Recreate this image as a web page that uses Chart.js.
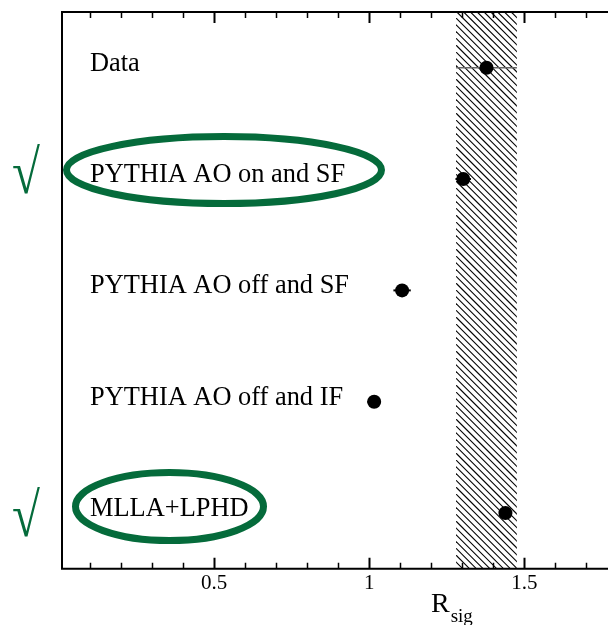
<!DOCTYPE html>
<html>
<head>
<meta charset="utf-8">
<script src="https://cdn.jsdelivr.net/npm/chart.js@4.4.1/dist/chart.umd.min.js"></script>
<style>
  html, body { margin: 0; padding: 0; background: #fff; }
  #c { display: block; }
</style>
</head>
<body>
<canvas id="c" width="608" height="625" style="width:608px;height:625px"></canvas>
<script>
// ---- data ----
const categories = ["Data", "PYTHIA AO on and SF", "PYTHIA AO off and SF", "PYTHIA AO off and IF", "MLLA+LPHD"];
const rsigValues = [1.378, 1.303, 1.106, 1.016, 1.439];
const rsigErrors = [0.098, 0.025, 0.028, 0.022, 0.0];
const checked    = [false, true, false, false, true];
const majorTicks = [0.5, 1, 1.5];
const minorTicks = [0.1, 0.2, 0.3, 0.4, 0.6, 0.7, 0.8, 0.9, 1.1, 1.2, 1.3, 1.4, 1.6, 1.7];
const xTitle = "R";
const xTitleSub = "sig";

const GREEN = "#056b3b";
const SERIF = "'Liberation Serif', 'Times New Roman', serif";

// ellipse / check-mark geometry (style, pixel offsets relative to row)
const ellipseStyle = {
  1: { cx: 224, dy: -9, rx: 157.5, ry: 33.5, checkDy: 14 },
  4: { cx: 169.5, dy: -6.5, rx: 94, ry: 34, checkDy: 23 }
};

const decorPlugin = {
  id: 'decor',
  beforeDatasetsDraw(chart) {
    const ctx = chart.ctx;
    const xs = chart.scales.x, ys = chart.scales.y;
    const area = chart.chartArea;
    // hatched band = data value +- its uncertainty
    const x0 = xs.getPixelForValue(rsigValues[0] - rsigErrors[0]);
    const x1 = xs.getPixelForValue(rsigValues[0] + rsigErrors[0]);
    ctx.save();
    ctx.beginPath();
    ctx.rect(x0, area.top, x1 - x0, area.bottom - area.top);
    ctx.clip();
    ctx.strokeStyle = '#000';
    ctx.lineWidth = 1.1;
    const h = area.bottom - area.top;
    for (let s = x0 - h; s < x1 + 10; s += 6.8) {
      ctx.beginPath();
      ctx.moveTo(s, area.top);
      ctx.lineTo(s + h, area.bottom);
      ctx.stroke();
    }
    ctx.restore();
    // error bars
    ctx.save();
    rsigValues.forEach((v, i) => {
      const e = rsigErrors[i];
      if (!e) return;
      const y = ys.getPixelForValue(i);
      ctx.beginPath();
      ctx.strokeStyle = i === 0 ? '#666' : '#000';
      ctx.lineWidth = i === 0 ? 1.5 : 2;
      ctx.moveTo(xs.getPixelForValue(v - e), y);
      ctx.lineTo(xs.getPixelForValue(v + e), y);
      ctx.stroke();
    });
    ctx.restore();
  },
  afterDraw(chart) {
    const ctx = chart.ctx;
    const xs = chart.scales.x, ys = chart.scales.y;
    const a = chart.chartArea;
    ctx.save();
    // frame: left, top, bottom
    ctx.strokeStyle = '#000';
    ctx.lineWidth = 2;
    ctx.beginPath();
    ctx.moveTo(chart.width + 2, a.top);
    ctx.lineTo(a.left, a.top);
    ctx.lineTo(a.left, a.bottom);
    ctx.lineTo(chart.width + 2, a.bottom);
    ctx.stroke();
    // inward ticks on top and bottom
    ctx.lineWidth = 1.5;
    const drawTick = (v, len) => {
      const px = Math.round(xs.getPixelForValue(v)) + 0.5;
      ctx.beginPath();
      ctx.moveTo(px, a.bottom);
      ctx.lineTo(px, a.bottom - len);
      ctx.moveTo(px, a.top);
      ctx.lineTo(px, a.top + len);
      ctx.stroke();
    };
    minorTicks.forEach(v => drawTick(v, 6));
    ctx.lineWidth = 2;
    majorTicks.forEach(v => drawTick(v, 11));

    // labels
    ctx.fillStyle = '#000';
    ctx.font = '26.4px ' + SERIF;
    ctx.textBaseline = 'alphabetic';
    ctx.textAlign = 'left';
    categories.forEach((c, i) => {
      const y = ys.getPixelForValue(i);
      ctx.fillText(c, a.left + 28, y + 3);
    });

    // ellipses and check marks
    categories.forEach((c, i) => {
      if (!checked[i]) return;
      const y = ys.getPixelForValue(i);
      const st = ellipseStyle[i];
      ctx.beginPath();
      ctx.strokeStyle = GREEN;
      ctx.lineWidth = 7;
      ctx.ellipse(st.cx, y + st.dy, st.rx, st.ry, 0, 0, Math.PI * 2);
      ctx.stroke();
      ctx.save();
      ctx.fillStyle = GREEN;
      ctx.font = '62px ' + SERIF;
      ctx.textAlign = 'center';
      ctx.translate(26, y + st.checkDy);
      ctx.scale(0.82, 1);
      ctx.fillText('\u221A', 0, 0);
      ctx.restore();
    });

    // axis title R_sig
    ctx.fillStyle = '#000';
    ctx.textAlign = 'left';
    ctx.font = '28px ' + SERIF;
    ctx.fillText(xTitle, 431, 612);
    const w = ctx.measureText(xTitle).width;
    ctx.font = '19px ' + SERIF;
    ctx.fillText(xTitleSub, 431 + w + 1, 622);
    ctx.restore();
  }
};

new Chart(document.getElementById('c'), {
  type: 'scatter',
  data: {
    datasets: [{
      data: rsigValues.map((v, i) => ({ x: v, y: i })),
      pointRadius: 7,
      pointHoverRadius: 7,
      pointBackgroundColor: '#000',
      pointBorderColor: '#000',
      pointBorderWidth: 0,
      clip: false
    }]
  },
  options: {
    responsive: false,
    animation: false,
    events: [],
    layout: { padding: { left: 62, top: 12, right: 0, bottom: 27 } },
    plugins: { legend: { display: false }, tooltip: { enabled: false } },
    scales: {
      x: {
        type: 'linear',
        min: 0.01,
        max: 1.747,
        grid: { display: false, drawTicks: false },
        border: { display: false },
        afterBuildTicks(scale) { scale.ticks = majorTicks.map(v => ({ value: v })); },
        ticks: {
          color: '#000',
          padding: 2,
          maxRotation: 0,
          autoSkip: false,
          font: { family: SERIF, size: 21 },
          callback: (v) => String(v)
        }
      },
      y: {
        type: 'linear',
        min: -0.5,
        max: 4.5,
        reverse: true,
        display: false
      }
    }
  },
  plugins: [decorPlugin]
});
</script>
</body>
</html>
